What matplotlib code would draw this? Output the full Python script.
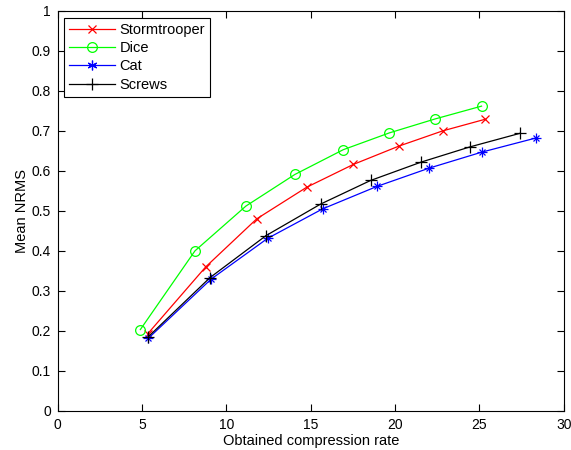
import numpy as np
import matplotlib
matplotlib.use("Agg")
import matplotlib.pyplot as plt

plt.rcParams['font.family'] = ['Liberation Sans', 'DejaVu Sans']

# Obtained compression rate vs mean NRMS
storm_x = [5.33, 8.78, 11.80, 14.76, 17.52, 20.23, 22.82, 25.33]
storm_y = [0.192, 0.360, 0.480, 0.559, 0.616, 0.662, 0.700, 0.729]
dice_x = [4.90, 8.14, 11.16, 14.06, 16.93, 19.66, 22.38, 25.13]
dice_y = [0.203, 0.400, 0.512, 0.591, 0.653, 0.695, 0.730, 0.762]
cat_x = [5.37, 9.09, 12.44, 15.71, 18.92, 22.03, 25.15, 28.33]
cat_y = [0.181, 0.329, 0.431, 0.505, 0.561, 0.607, 0.647, 0.682]
screws_x = [5.37, 9.03, 12.35, 15.59, 18.55, 21.55, 24.44, 27.41]
screws_y = [0.185, 0.333, 0.438, 0.517, 0.576, 0.622, 0.660, 0.694]

fig = plt.figure(figsize=(5.71, 4.5), dpi=100)
ax = fig.add_axes([57.7/571, 39.3/450, 506/571, 399.7/450])

ax.plot(storm_x, storm_y, '-x', color='r', lw=0.9, ms=6, mew=0.9, label='Stormtrooper')
ax.plot(dice_x, dice_y, '-o', color='#00ff00', lw=0.9, ms=7, mew=0.9, mfc='none', label='Dice')
ax.plot(cat_x, cat_y, '-', color='b', lw=0.9, label='_nolegend_')
ax.plot(cat_x, cat_y, '+', color='b', ms=7, mew=0.9, label='_nolegend_')
ax.plot(cat_x, cat_y, 'x', color='b', ms=5, mew=0.9, label='_nolegend_')
cat_h, = ax.plot([], [], '-', marker=(6, 2, 0), color='b', lw=0.9, ms=7, mew=0.9, label='Cat')
ax.plot(screws_x, screws_y, '-+', color='k', lw=0.9, ms=8, mew=0.9, label='Screws')

ax.set_xlim(0, 30)
ax.set_ylim(0, 1)
ax.set_xticks(np.arange(0, 31, 5))
ax.set_yticks(np.arange(0, 1.01, 0.1))
ax.set_yticklabels(['0', '0.1', '0.2', '0.3', '0.4', '0.5', '0.6', '0.7', '0.8', '0.9', '1'])
ax.tick_params(direction='in', top=True, right=True, labelsize=10, length=5, pad=5)
ax.set_xlabel('Obtained compression rate', fontsize=10.5, labelpad=2)
ax.set_ylabel('Mean NRMS', fontsize=10.5, labelpad=2)

leg = ax.legend(loc='upper left', fontsize=10.5, fancybox=False, edgecolor='k',
                framealpha=1, handlelength=3.1, handletextpad=0.35, borderaxespad=0.45,
                labelspacing=0.3, borderpad=0.35)
leg.get_frame().set_linewidth(0.8)

fig.savefig('out.png', dpi=100)
